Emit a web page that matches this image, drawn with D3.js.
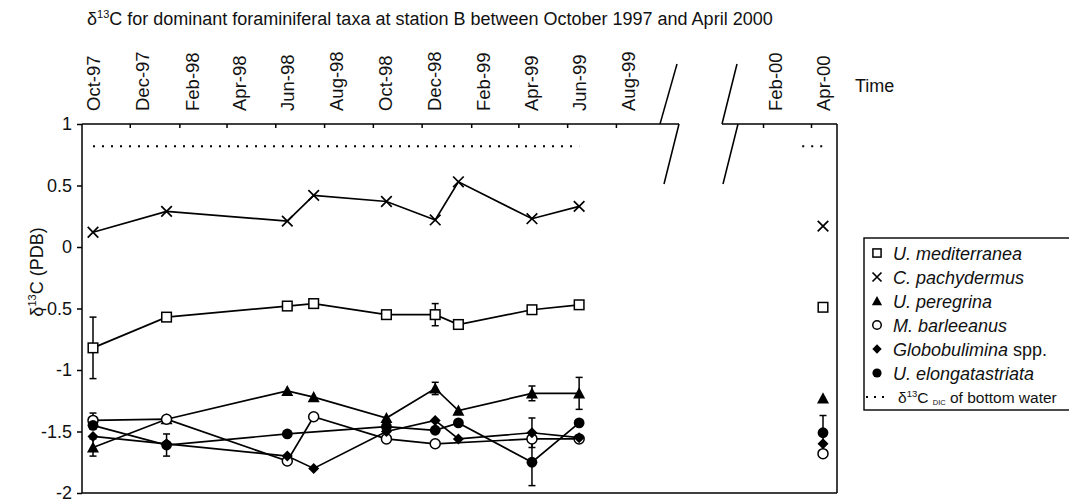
<!DOCTYPE html>
<html><head><meta charset="utf-8">
<script src="https://cdn.jsdelivr.net/npm/d3@7/dist/d3.min.js"></script>
<style>
body{margin:0;background:#fff;}
svg{display:block;font-family:"Liberation Sans",Arial,sans-serif;}
</style></head>
<body><svg id="c" width="1069" height="502"></svg>
<script>
// ---- data ----
const sampleDates = ["1997-10-01","1998-01-01","1998-06-01","1998-07-04","1998-10-03","1998-12-03","1999-01-01","1999-04-03","1999-06-01","2000-04-01"];
const tickLabels = ["Oct-97","Dec-97","Feb-98","Apr-98","Jun-98","Aug-98","Oct-98","Dec-98","Feb-99","Apr-99","Jun-99","Aug-99","Feb-00","Apr-00"];
const tickLabelDates = ["1997-10-01","1997-12-01","1998-02-01","1998-04-01","1998-06-01","1998-08-01","1998-10-01","1998-12-01","1999-02-01","1999-04-01","1999-06-01","1999-08-01","2000-02-01","2000-04-01"];
const yTicks = [-2,-1.5,-1,-0.5,0,0.5,1];
const mediterranea = [-0.82,-0.57,-0.48,-0.46,-0.55,-0.55,-0.63,-0.51,-0.47,-0.49];
const mediterraneaErr = [0.25,0,0,0,0,0.09,0,0.03,0.03,0.03];
const pachydermus = [0.12,0.29,0.21,0.42,0.37,0.22,0.53,0.23,0.33,0.17];
const pachydermusErr = [0,0,0,0,0,0,0,0,0,0];
const peregrina = [-1.63,-1.40,-1.17,-1.22,-1.39,-1.15,-1.33,-1.19,-1.19,-1.23];
const peregrinaErr = [0.07,0,0,0,0,0.05,0,0.06,0.13,0];
const barleeanus = [-1.41,-1.40,-1.74,-1.38,-1.56,-1.60,null,-1.56,-1.56,-1.68];
const barleeanusErr = [0.06,0,0,0,0,0,0,0,0,0.02];
const globobulimina = [-1.54,-1.60,-1.70,-1.80,-1.50,-1.41,-1.56,-1.51,-1.55,-1.60];
const globobuliminaErr = [0,0,0,0,0,0,0,0.12,0,0];
const elongatastriata = [-1.45,-1.61,-1.52,null,-1.46,-1.49,-1.43,-1.75,-1.43,-1.51];
const elongatastriataErr = [0,0.09,0,0,0,0,0,0.19,0,0.14];
const dicSegments = [["1997-10-01","1999-06-01"],["2000-03-06","2000-04-01"]];
const dicValue = 0.82;
const seriesNames = ["U. mediterranea","C. pachydermus","U. peregrina","M. barleeanus","Globobulimina","U. elongatastriata"];

// ---- setup ----
const svg = d3.select("#c");
const parse = d3.timeParse("%Y-%m-%d");
const L=82, R=837, T=124, B=493;
const x = d3.scaleTime().domain([parse("1997-10-01"), parse("2000-04-01")]).range([93, 823]);
const y = d3.scaleLinear().domain([-2,1]).range([B, T]);
const font = '"Liberation Sans",Arial,sans-serif';
const FS = 18;

const series = [
  {name:seriesNames[0], vals:mediterranea, err:mediterraneaErr, sym:"square"},
  {name:seriesNames[1], vals:pachydermus, err:pachydermusErr, sym:"cross"},
  {name:seriesNames[2], vals:peregrina, err:peregrinaErr, sym:"triangle"},
  {name:seriesNames[3], vals:barleeanus, err:barleeanusErr, sym:"ocircle"},
  {name:seriesNames[4], vals:globobulimina, err:globobuliminaErr, sym:"diamond"},
  {name:seriesNames[5], vals:elongatastriata, err:elongatastriataErr, sym:"fcircle"}
];

// title
const title = svg.append("text").attr("x",87).attr("y",25).attr("font-size",FS).attr("fill","#111");
title.append("tspan").text("δ");
title.append("tspan").attr("font-size",11).attr("dy",-7).text("13");
title.append("tspan").attr("dy",7).text("C for dominant foraminiferal taxa at station B between October 1997 and April 2000");

// frame
const frame = svg.append("g").attr("stroke","#000").attr("stroke-width",1.5).attr("fill","none");
frame.append("line").attr("x1",L).attr("x2",L).attr("y1",T).attr("y2",B);
frame.append("line").attr("x1",L).attr("x2",R).attr("y1",B).attr("y2",B);
frame.append("line").attr("x1",R).attr("x2",R).attr("y1",T).attr("y2",B);
frame.append("line").attr("x1",L).attr("x2",679).attr("y1",T).attr("y2",T);
frame.append("line").attr("x1",722).attr("x2",R).attr("y1",T).attr("y2",T);
// break marks
frame.append("line").attr("x1",660).attr("y1",T).attr("x2",677).attr("y2",64);
frame.append("line").attr("x1",679).attr("y1",T).attr("x2",664).attr("y2",184);
frame.append("line").attr("x1",722).attr("y1",T).attr("x2",737).attr("y2",64);
frame.append("line").attr("x1",738).attr("y1",T).attr("x2",723).attr("y2",184);

// y axis
const yAxis = svg.append("g").attr("transform",`translate(${L},0)`)
  .call(d3.axisLeft(y).tickValues(yTicks).tickFormat(d=>String(d)).tickSize(5).tickPadding(5));
yAxis.select(".domain").remove();
yAxis.selectAll("line").attr("stroke","#000").attr("stroke-width",1.5);
yAxis.selectAll("text").attr("font-size",FS).attr("font-family",font).attr("fill","#111");

// top axis: labels
const topAxis = svg.append("g").attr("transform",`translate(0,${T})`)
  .call(d3.axisTop(x).tickValues(tickLabelDates.map(parse)).tickFormat((d,i)=>tickLabels[i]).tickSize(0));
topAxis.select(".domain").remove();
topAxis.selectAll("text").attr("font-size",18.5).attr("font-family",font).attr("fill","#111")
  .attr("transform","rotate(-90)").attr("x",13).attr("y",0).attr("dy","0.36em").style("text-anchor","start");
// top axis: ticks (between label months)
const tickDates = tickLabelDates.map(s=>d3.timeDay.offset(parse(s),-15));
const topTicks = svg.append("g").attr("transform",`translate(0,${T})`)
  .call(d3.axisTop(x).tickValues(tickDates.slice(1)).tickFormat("").tickSizeInner(-4).tickSizeOuter(0));
topTicks.select(".domain").remove();
topTicks.selectAll("line").attr("stroke","#000").attr("stroke-width",1.5);

svg.append("text").attr("x",855).attr("y",92).attr("font-size",FS).attr("fill","#111").text("Time");

// y label
const yl = svg.append("text").attr("transform","translate(43,272) rotate(-90)").attr("text-anchor","middle")
  .attr("font-size",FS).attr("fill","#111");
yl.append("tspan").text("δ");
yl.append("tspan").attr("font-size",11).attr("dy",-7).text("13");
yl.append("tspan").attr("dy",7).text("C (PDB)");

// DIC dotted line
const dic = svg.append("g");
dicSegments.forEach(seg=>{
  dic.append("line").attr("x1",x(parse(seg[0]))).attr("x2",x(parse(seg[1])))
    .attr("y1",y(dicValue)).attr("y2",y(dicValue))
    .attr("stroke","#000").attr("stroke-width",2).attr("stroke-dasharray","2,7");
});

// lines (exclude last point - after break)
const lineGen = d3.line().x(d=>x(d.date)).y(d=>y(d.v));
const dates = sampleDates.map(parse);
const lineG = svg.append("g");
series.forEach(s=>{
  const pts = s.vals.slice(0,9).map((v,i)=>({date:dates[i], v})).filter(d=>d.v!==null);
  lineG.append("path").attr("d",lineGen(pts)).attr("fill","none").attr("stroke","#000").attr("stroke-width",1.7);
});

// error bars
const errG = svg.append("g").attr("stroke","#000").attr("stroke-width",1.5);
series.forEach(s=>{
  s.vals.forEach((v,i)=>{
    const e = s.err[i];
    if(v===null || !e) return;
    const cx = x(dates[i]);
    errG.append("line").attr("x1",cx).attr("x2",cx).attr("y1",y(v+e)).attr("y2",y(v-e));
    errG.append("line").attr("x1",cx-3.5).attr("x2",cx+3.5).attr("y1",y(v+e)).attr("y2",y(v+e));
    errG.append("line").attr("x1",cx-3.5).attr("x2",cx+3.5).attr("y1",y(v-e)).attr("y2",y(v-e));
  });
});

// markers
function drawSym(g, sym, cx, cy, sc){
  sc = sc||1;
  if(sym==="square"){
    const h=4.8*sc;
    g.append("rect").attr("x",cx-h).attr("y",cy-h).attr("width",2*h).attr("height",2*h)
      .attr("fill","#fff").attr("stroke","#000").attr("stroke-width",1.5);
  } else if(sym==="cross"){
    const h=5.3*sc;
    g.append("path").attr("d",`M${cx-h},${cy-h}L${cx+h},${cy+h}M${cx-h},${cy+h}L${cx+h},${cy-h}`)
      .attr("stroke","#000").attr("stroke-width",1.7);
  } else if(sym==="triangle"){
    const h=6*sc;
    g.append("path").attr("d",`M${cx},${cy-h}L${cx+h},${cy+h*0.85}L${cx-h},${cy+h*0.85}Z`).attr("fill","#000");
  } else if(sym==="ocircle"){
    g.append("circle").attr("cx",cx).attr("cy",cy).attr("r",5*sc).attr("fill","#fff").attr("stroke","#000").attr("stroke-width",1.5);
  } else if(sym==="diamond"){
    const h=5.5*sc;
    g.append("path").attr("d",`M${cx},${cy-h}L${cx+h},${cy}L${cx},${cy+h}L${cx-h},${cy}Z`).attr("fill","#000");
  } else if(sym==="fcircle"){
    g.append("circle").attr("cx",cx).attr("cy",cy).attr("r",5.4*sc).attr("fill","#000");
  }
}
const markG = svg.append("g");
series.forEach(s=>{
  s.vals.forEach((v,i)=>{
    if(v===null) return;
    drawSym(markG, s.sym, x(dates[i]), y(v));
  });
});

// legend
const LS = 24;
const lg = svg.append("g");
lg.append("rect").attr("x",864).attr("y",238).attr("width",220).attr("height",172)
  .attr("fill","#fff").attr("stroke","#000").attr("stroke-width",1.4);
series.forEach((s,i)=>{
  const cy = 253 + i*LS;
  drawSym(lg, s.sym, 877, cy, 0.85);
  const t = lg.append("text").attr("x",893).attr("y",cy+6.5).attr("font-size",FS).attr("fill","#111");
  if(s.name==="Globobulimina"){
    t.append("tspan").attr("font-style","italic").text("Globobulimina");
    t.append("tspan").text(" spp.");
  } else {
    t.attr("font-style","italic").text(s.name);
  }
});
{
  const cy = 253 + 6*LS;
  lg.append("line").attr("x1",866).attr("x2",884).attr("y1",cy).attr("y2",cy)
    .attr("stroke","#000").attr("stroke-width",2).attr("stroke-dasharray","2,6");
  const t = lg.append("text").attr("x",898).attr("y",cy+6).attr("font-size",15.5).attr("fill","#111");
  t.append("tspan").text("δ");
  t.append("tspan").attr("font-size",9.5).attr("dy",-6.5).text("13");
  t.append("tspan").attr("dy",6.5).text("C ");
  t.append("tspan").attr("font-size",7.5).attr("dy",2).text("DIC");
  t.append("tspan").attr("dy",-2).text(" of bottom water");
}
</script></body></html>
